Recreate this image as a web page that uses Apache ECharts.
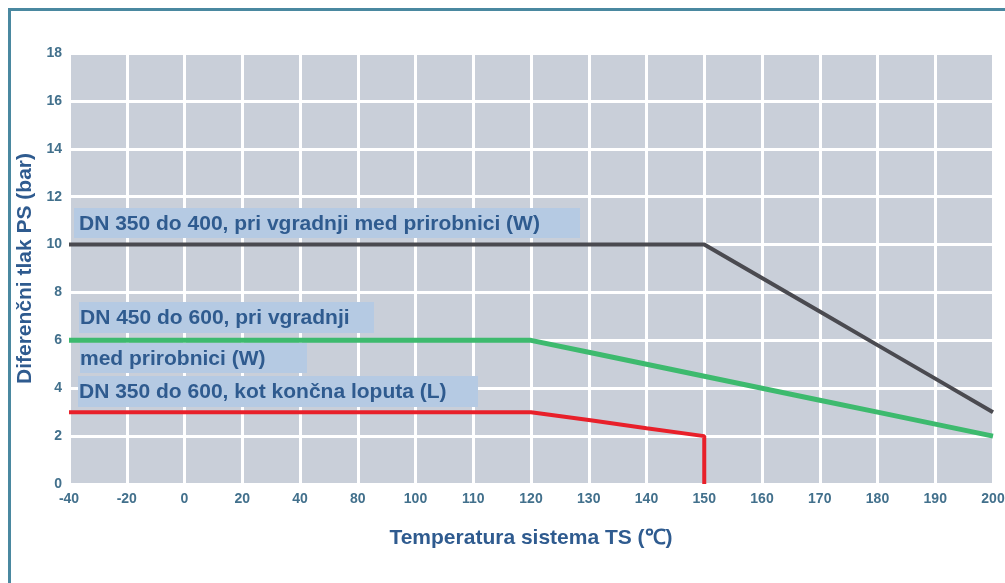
<!DOCTYPE html>
<html>
<head>
<meta charset="utf-8">
<script src="https://cdn.jsdelivr.net/npm/echarts@6/dist/echarts.min.js"></script>
<style>html,body{margin:0;padding:0;background:#fff}#c{width:1005px;height:583px}</style>
</head>
<body>
<div id="c"></div>
<script>
var categories = ['-40','-20','0','20','40','80','100','110','120','130','140','150','160','170','180','190','200'];
var yTicks = [0, 2, 4, 6, 8, 10, 12, 14, 16, 18];
var blackValues = [10,10,10,10,10,10,10,10,10,10,10,10,8.6,7.2,5.8,4.4,3];
var greenValues = [6,6,6,6,6,6,6,6,6,5.5,5,4.5,4,3.5,3,2.5,2];
var redX = ['-40','-20','0','20','40','80','100','110','120','130','140','150','150'];
var redValues = [3,3,3,3,3,3,3,3,3,2.67,2.33,2,0];
var labels = [
  'DN 350 do 400, pri vgradnji med prirobnici (W)',
  'DN 450 do 600, pri vgradnji',
  'med prirobnici (W)',
  'DN 350 do 600, kot končna loputa (L)'
];
var yName = 'Diferenčni tlak PS (bar)';
var xName = 'Temperatura sistema TS (℃)';

function pairs(xs, ys){ return xs.map(function(x,i){ return [x, ys[i]]; }); }

var chart = echarts.init(document.getElementById('c'), null, {renderer:'canvas'});
var textColor = '#2f5b8f';
var tickColor = '#42708c';
var boxColor = '#b5cae3';
var fontFam = '"Liberation Sans", Arial, sans-serif';
var boxes = [
  {x:74, y:208, w:506, h:30, tx:79},
  {x:79, y:302, w:295, h:31, tx:80},
  {x:80, y:343, w:227, h:30, tx:80},
  {x:78, y:376, w:400, h:31, tx:79}
];
var graphics = [{
  type:'rect', left:7, top:7, z:0,
  shape:{x:0,y:0,width:1100,height:700},
  style:{fill:'none', stroke:'#4a88a0', lineWidth:3}
}];
boxes.forEach(function(b, i){
  graphics.push({type:'rect', z:50, shape:{x:b.x,y:b.y,width:b.w,height:b.h}, style:{fill:boxColor}});
  graphics.push({type:'text', z:51, x:b.tx, y:b.y + b.h/2 + 1,
    style:{text:labels[i], fill:textColor, font:'bold 21px ' + fontFam, textVerticalAlign:'middle', verticalAlign:'middle'}});
});

chart.setOption({
  animation:false,
  backgroundColor:'#fff',
  grid:{left:69, right:12, top:53, bottom:99, containLabel:false, outerBoundsMode:'none', show:true, backgroundColor:'#c9cfd9', borderWidth:0},
  xAxis:{
    type:'category', data:categories, boundaryGap:false,
    axisLine:{show:false}, axisTick:{show:false},
    axisLabel:{interval:0, color:tickColor, fontSize:14, fontWeight:'bold', fontFamily:fontFam, margin:8},
    splitLine:{show:true, interval:0, lineStyle:{color:'#ffffff', width:3}},
    name:xName, nameLocation:'middle', nameGap:44,
    nameTextStyle:{color:textColor, fontSize:21, fontWeight:'bold', fontFamily:fontFam}
  },
  yAxis:{
    type:'value', min:yTicks[0], max:yTicks[yTicks.length-1], interval:2,
    axisLine:{show:false}, axisTick:{show:false},
    axisLabel:{color:tickColor, fontSize:14, fontWeight:'bold', fontFamily:fontFam, margin:7},
    splitLine:{show:true, lineStyle:{color:'#ffffff', width:3}},
    name:yName, nameLocation:'middle', nameGap:31,
    nameTextStyle:{color:textColor, fontSize:21, fontWeight:'bold', fontFamily:fontFam}
  },
  graphic:graphics,
  series:[
    {type:'line', data:pairs(categories, blackValues), symbol:'none', lineStyle:{color:'#4a4a50', width:4}, z:5},
    {type:'line', data:pairs(categories, greenValues), symbol:'none', lineStyle:{color:'#3dba6e', width:5}, z:6},
    {type:'line', data:pairs(redX, redValues), symbol:'none', lineStyle:{color:'#e8202a', width:4}, z:7}
  ]
});
</script>
</body>
</html>
